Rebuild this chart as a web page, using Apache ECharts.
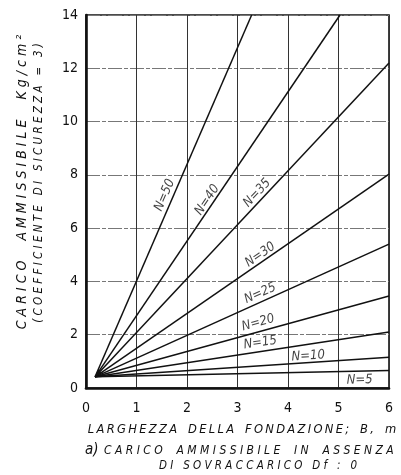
<!DOCTYPE html>
<html>
<head>
<meta charset="utf-8">
<script src="https://cdn.jsdelivr.net/npm/echarts@6/dist/echarts.min.js"></script>
<style>
  html, body { margin: 0; padding: 0; background: #fff; }
  #chart { width: 401px; height: 475px; }
</style>
</head>
<body>
<div id="chart"></div>
<script>
// Allowable bearing pressure (kg/cm²) against footing width B (m), one straight line per N value.
const nValues   = [50, 40, 35, 30, 25, 20, 15, 10, 5];
const lineStart = [[0.18, 0.42], [0.18, 0.42], [0.18, 0.42], [0.18, 0.42], [0.18, 0.42], [0.18, 0.42], [0.18, 0.42], [0.18, 0.42], [0.18, 0.42]];
const lineEnd   = [[3.28, 14.0], [5.03, 14.0], [6.00, 12.2], [6.00, 8.03], [6.00, 5.40], [6.00, 3.45], [6.00, 2.10], [6.00, 1.15], [6.00, 0.66]];
const xTicks = [0, 1, 2, 3, 4, 5, 6];
const yTicks = [0, 2, 4, 6, 8, 10, 12, 14];

// Where each "N = .." tag sits, in axis units (it is turned to follow its line).
const tagAt = [[1.56, 7.24], [2.40, 7.06], [3.39, 7.32], [3.45, 5.0], [3.45, 3.55], [3.41, 2.45], [3.45, 1.70], [4.40, 1.20], [5.42, 0.30]];

const FONT = '"DejaVu Sans Condensed", "Liberation Sans Narrow", "DejaVu Sans", sans-serif';
const spaced = (s, gap, wordGap) => s.split(' ').map(w => Array.from(w).join(gap)).join(wordGap);

const chart = echarts.init(document.getElementById('chart'), null, { renderer: 'canvas' });

function buildOption(rotations, arrowRotate) {
  const lineSeries = nValues.map((n, i) => ({
    type: 'line',
    name: 'N=' + n,
    data: [
      // the N=35 line carries the small arrowhead at the common origin of the fan
      i === 2
        ? { value: lineStart[i], symbol: 'arrow', symbolSize: [5, 9], symbolRotate: arrowRotate }
        : { value: lineStart[i], symbol: 'none' },
      { value: lineEnd[i], symbol: 'none' }
    ],
    showSymbol: true,
    symbol: 'none',
    itemStyle: { color: '#111' },
    silent: true,
    animation: false,
    lineStyle: { color: '#111', width: 1.5 },
    z: 3
  }));

  return {
    animation: false,
    backgroundColor: '#fff',
    grid: {
      left: 86, top: 15, width: 303, height: 373,
      show: true, borderColor: '#111', borderWidth: 1.6, backgroundColor: 'transparent'
    },
    xAxis: {
      type: 'value', min: xTicks[0], max: xTicks[xTicks.length - 1], interval: 1,
      axisLine: { show: true, onZero: false, lineStyle: { color: '#111', width: 2.6 } },
      axisTick: { show: false },
      axisLabel: { margin: 13, color: '#111', fontSize: 14, fontFamily: FONT },
      splitLine: { show: true, lineStyle: { color: '#333', width: 1 } }
    },
    yAxis: {
      type: 'value', min: yTicks[0], max: yTicks[yTicks.length - 1], interval: 2,
      axisLine: { show: true, onZero: false, lineStyle: { color: '#111', width: 2.6 } },
      axisTick: { show: false },
      axisLabel: { margin: 8, color: '#111', fontSize: 14, fontFamily: FONT },
      splitLine: { show: true, lineStyle: { color: '#777', width: 1, type: [14, 2, 4, 2] } }
    },
    series: lineSeries.concat([{
      type: 'scatter',
      silent: true,
      symbolSize: 0,
      z: 4,
      data: nValues.map((n, i) => ({
        value: tagAt[i],
        label: {
          show: true, position: 'inside', formatter: 'N=' + n,
          rotate: rotations[i], color: '#111',
          fontSize: 13, fontStyle: 'italic', fontFamily: FONT
        }
      }))
    }]),
    graphic: [
      {
        type: 'text', x: 22, y: 182, rotation: Math.PI / 2,
        style: {
          text: spaced('CARICO AMMISSIBILE Kg/cm²', ' ', '     '),
          fill: '#111', font: 'italic 14px ' + FONT, textAlign: 'center', textVerticalAlign: 'middle'
        }
      },
      {
        type: 'text', x: 39, y: 183, rotation: Math.PI / 2,
        style: {
          text: spaced('(COEFFICIENTE DI SICUREZZA = 3)', ' ', '   '),
          fill: '#111', font: 'italic 11.5px ' + FONT, textAlign: 'center', textVerticalAlign: 'middle'
        }
      },
      {
        type: 'text', x: 242, y: 430,
        style: {
          text: spaced('LARGHEZZA DELLA FONDAZIONE; B, m', '\u2009', '   '),
          fill: '#111', font: 'italic 12.8px ' + FONT, textAlign: 'center', textVerticalAlign: 'middle'
        }
      },
      {
        type: 'text', x: 85, y: 450,
        style: {
          text: 'a)', fill: '#111', font: 'italic 15px ' + FONT, textAlign: 'left', textVerticalAlign: 'middle'
        }
      },
      {
        type: 'text', x: 104, y: 451,
        style: {
          text: spaced('CARICO AMMISSIBILE IN ASSENZA', ' ', '    '),
          fill: '#111', font: 'italic 12px ' + FONT, textAlign: 'left', textVerticalAlign: 'middle'
        }
      },
      {
        type: 'text', x: 258, y: 466,
        style: {
          text: spaced('DI SOVRACCARICO Df : 0', ' ', '   '),
          fill: '#111', font: 'italic 11.5px ' + FONT, textAlign: 'center', textVerticalAlign: 'middle'
        }
      }
    ]
  };
}

// First pass lays out the grid; then tags are turned to the on-screen angle of their lines.
chart.setOption(buildOption(nValues.map(() => 0), 0));
const angles = nValues.map((n, i) => {
  const a = chart.convertToPixel({ gridIndex: 0 }, lineStart[i]);
  const b = chart.convertToPixel({ gridIndex: 0 }, lineEnd[i]);
  return Math.atan2(a[1] - b[1], b[0] - a[0]) * 180 / Math.PI;
});
chart.setOption(buildOption(angles, angles[2] + 90), { notMerge: true });
</script>
</body>
</html>
